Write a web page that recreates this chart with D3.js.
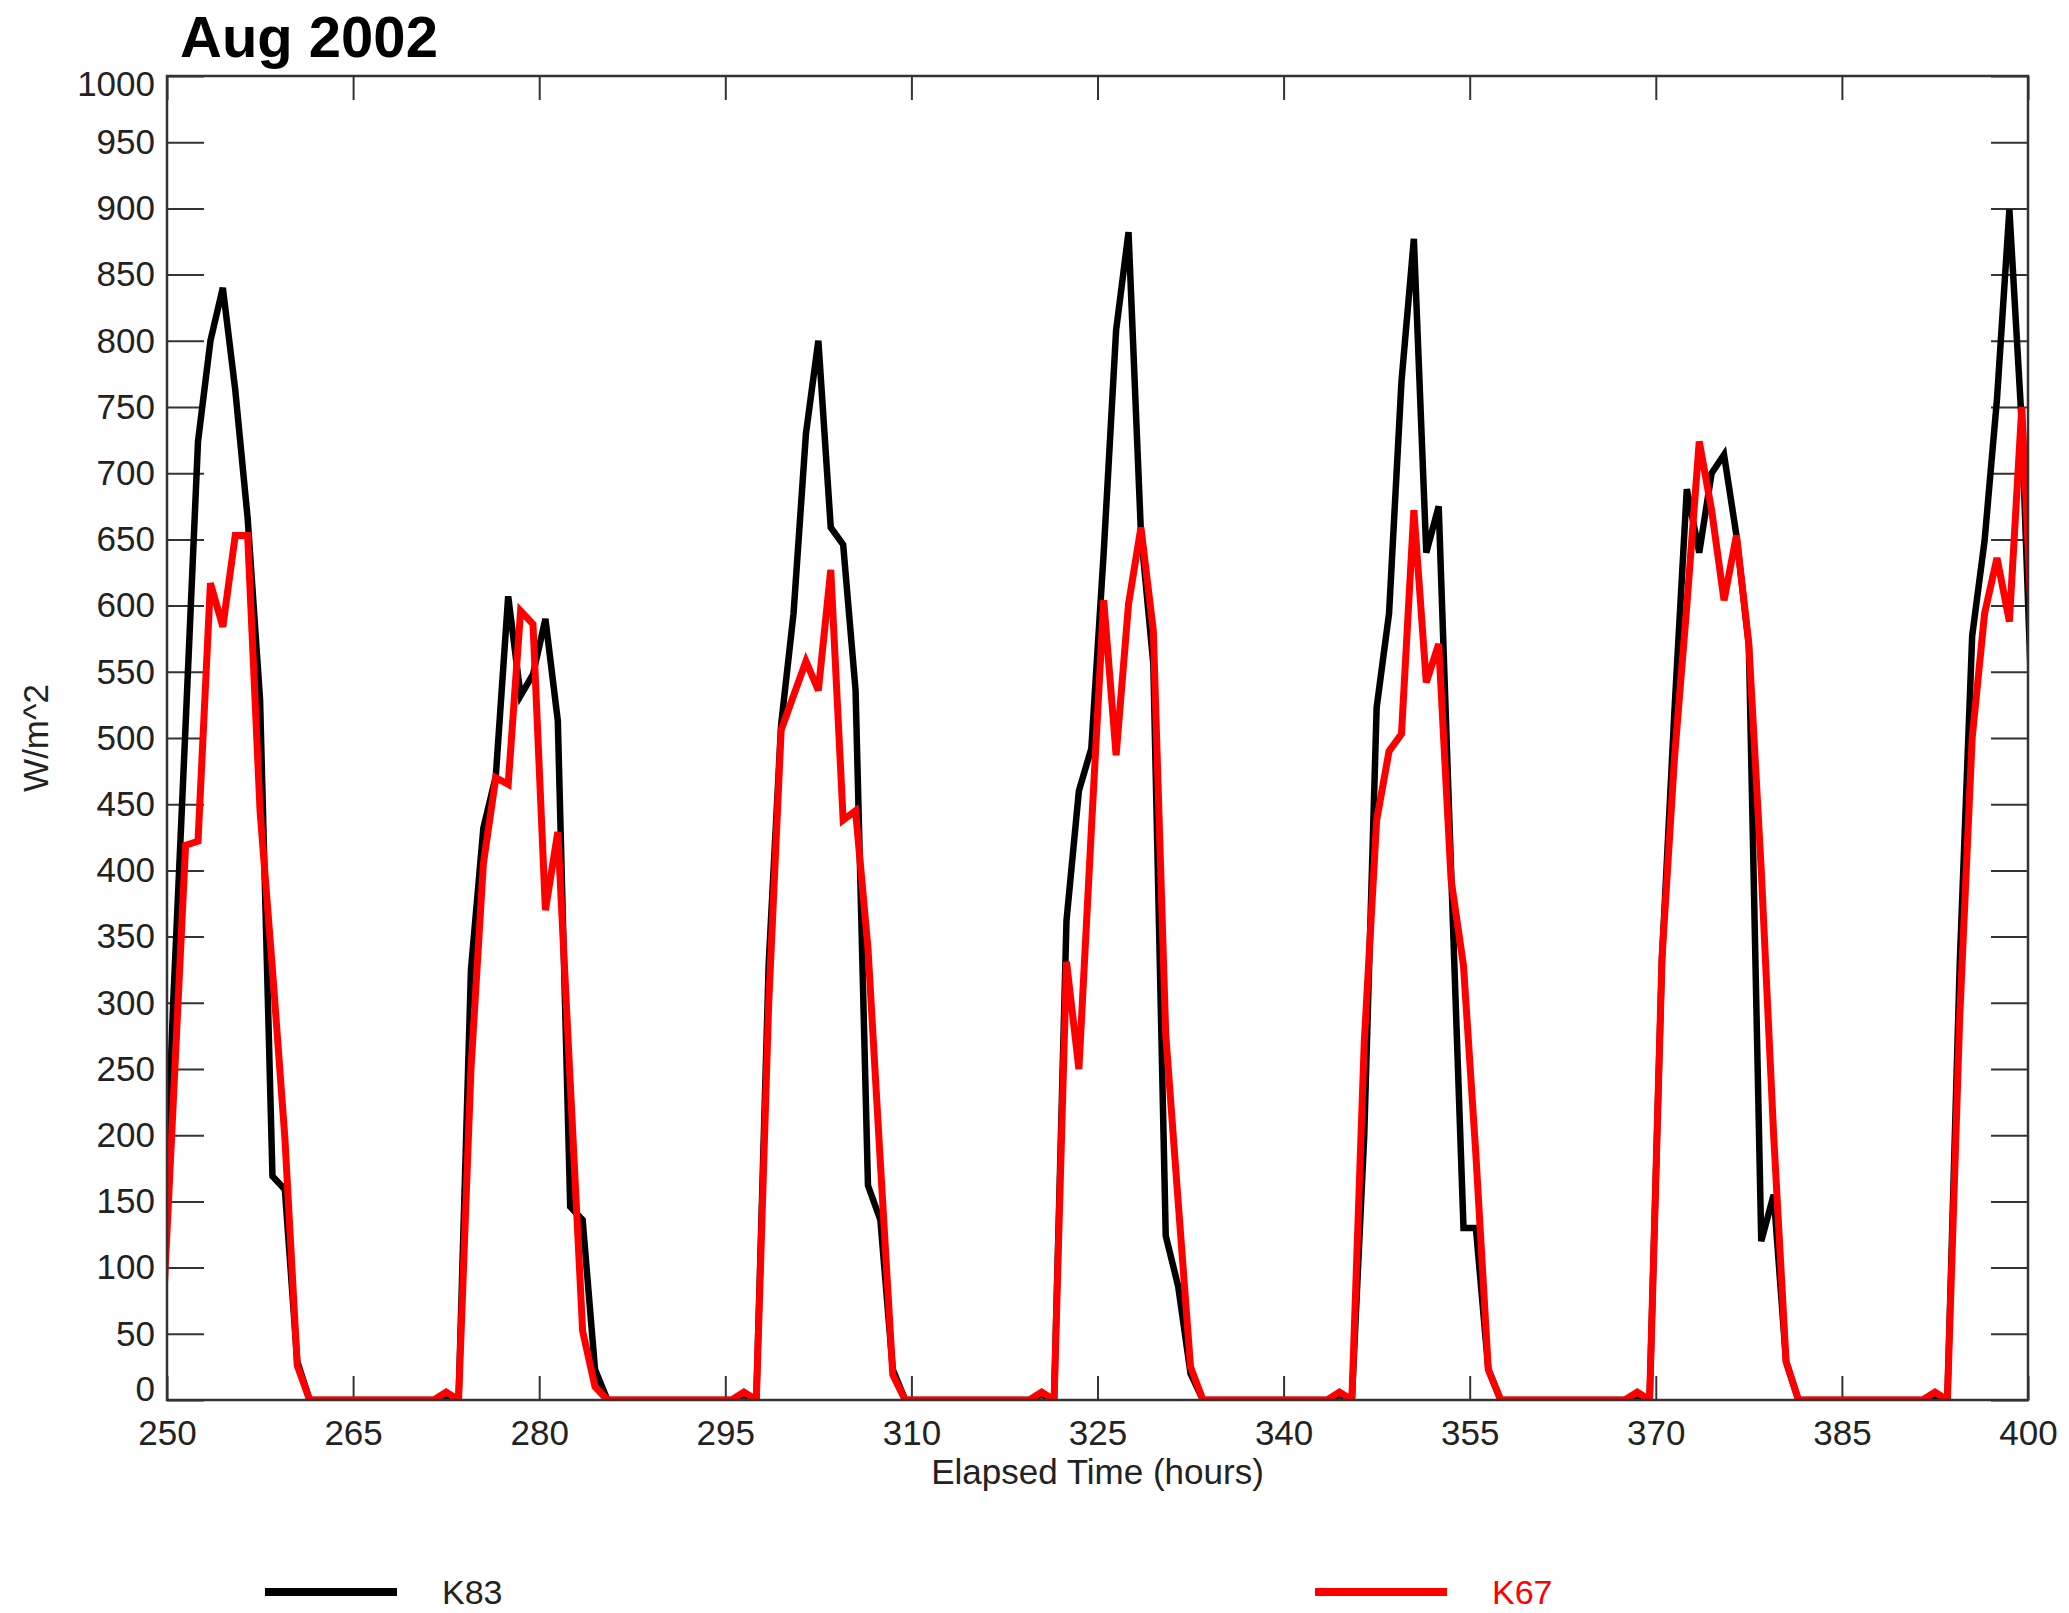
<!DOCTYPE html>
<html>
<head>
<meta charset="utf-8">
<script src="https://cdnjs.cloudflare.com/ajax/libs/d3/7.8.5/d3.min.js"></script>
<style>
  body { margin: 0; background: #fff; }
  svg { display: block; font-family: "Liberation Sans", Arial, Helvetica, sans-serif; }
</style>
</head>
<body>
<svg id="chart"></svg>
<script>
var W = 2069, H = 1613;
var margin = {top: 76, right: 41, bottom: 213, left: 167};
var width = W - margin.left - margin.right;
var height = H - margin.top - margin.bottom;

// hourly samples, centred on the half hour (first and last get clipped by the frame)
var hours = d3.range(249.5, 401, 1);

var k83 = [
  58, 300, 510, 724, 800, 840, 763, 666, 529, 169, 159, 29, 0,
  0, 0, 0, 0, 0, 0, 0, 0, 0, 0, 4, 0,
  325, 432, 471, 607, 532, 548, 590, 513, 146, 136, 23, 0,
  0, 0, 0, 0, 0, 0, 0, 0, 0, 0, 4, 0,
  330, 510, 594, 730, 800, 659, 646, 536, 162, 136, 23, 0,
  0, 0, 0, 0, 0, 0, 0, 0, 0, 0, 4, 0,
  362, 460, 492, 640, 808, 882, 655, 556, 124, 86, 20, 0,
  0, 0, 0, 0, 0, 0, 0, 0, 0, 0, 4, 0,
  200, 523, 594, 769, 877, 640, 675, 400, 130, 130, 23, 0,
  0, 0, 0, 0, 0, 0, 0, 0, 0, 0, 4, 0,
  334, 520, 688, 640, 700, 714, 653, 570, 120, 155, 29, 0,
  0, 0, 0, 0, 0, 0, 0, 0, 0, 0, 4, 0,
  330, 577, 649, 756, 899, 737, 471
];

var k67 = [
  30, 224, 419, 422, 617, 584, 653, 653, 445, 325, 198, 26, 0,
  0, 0, 0, 0, 0, 0, 0, 0, 0, 0, 6, 0,
  250, 405, 470, 465, 596, 586, 370, 429, 240, 52, 10, 0,
  0, 0, 0, 0, 0, 0, 0, 0, 0, 0, 6, 0,
  300, 506, 532, 558, 536, 627, 438, 445, 341, 179, 19, 0,
  0, 0, 0, 0, 0, 0, 0, 0, 0, 0, 6, 0,
  331, 250, 430, 604, 487, 601, 659, 581, 276, 150, 25, 0,
  0, 0, 0, 0, 0, 0, 0, 0, 0, 0, 6, 0,
  270, 438, 490, 503, 672, 542, 571, 393, 328, 185, 23, 0,
  0, 0, 0, 0, 0, 0, 0, 0, 0, 0, 6, 0,
  334, 484, 600, 724, 672, 604, 653, 571, 400, 200, 29, 0,
  0, 0, 0, 0, 0, 0, 0, 0, 0, 0, 6, 0,
  290, 500, 594, 636, 588, 750, 542
];

var xTicks = [250, 265, 280, 295, 310, 325, 340, 355, 370, 385, 400];
var yTicks = d3.range(0, 1001, 50);

var seriesNames = ["K83", "K67"];
var seriesColors = ["#000000", "#ff0000"];

var svg0 = d3.select("#chart")
    .attr("width", W)
    .attr("height", H);

svg0.append("rect")
    .attr("width", W)
    .attr("height", H)
    .attr("fill", "#fff");

var svg = svg0.append("g")
    .attr("transform", "translate(" + margin.left + "," + margin.top + ")");

var x = d3.scaleLinear().domain([250, 400]).range([0, width]);
var y = d3.scaleLinear().domain([0, 1000]).range([height, 0]);

svg.append("clipPath")
    .attr("id", "plot-clip")
  .append("rect")
    .attr("width", width)
    .attr("height", height);

// axes, ticks pointing inward
svg.append("g")
    .attr("class", "y axis left")
    .call(d3.axisLeft(y).tickValues(yTicks).tickFormat(d3.format("d"))
      .tickSizeInner(-37).tickSizeOuter(0).tickPadding(12));

svg.append("g")
    .attr("class", "y axis right")
    .attr("transform", "translate(" + width + ",0)")
    .call(d3.axisRight(y).tickValues(yTicks).tickSizeInner(-37).tickSizeOuter(0).tickFormat(""));

svg.append("g")
    .attr("class", "x axis bottom")
    .attr("transform", "translate(0," + height + ")")
    .call(d3.axisBottom(x).tickValues(xTicks).tickFormat(d3.format("d"))
      .tickSizeInner(-24).tickSizeOuter(0).tickPadding(20));

svg.append("g")
    .attr("class", "x axis top")
    .call(d3.axisTop(x).tickValues(xTicks).tickSizeInner(-24).tickSizeOuter(0).tickFormat(""));

svg.selectAll(".axis .domain").remove();
svg.selectAll(".axis .tick line")
    .attr("stroke", "#333")
    .attr("stroke-width", 2);
svg.selectAll(".axis text")
    .attr("font-size", "35px")
    .attr("font-family", "'Liberation Sans', Arial, sans-serif")
    .attr("fill", "#222");

// end labels nudged inside like the original
svg.selectAll(".y.axis.left .tick text")
    .attr("dy", function(d) {
      if (d === 1000) return "0.55em";
      if (d === 0) return "0.0em";
      return "0.32em";
    });

// data lines
var line = d3.line()
    .x(function(d) { return x(d[0]); })
    .y(function(d) { return y(d[1]); });

var lines = svg.append("g").attr("clip-path", "url(#plot-clip)");

lines.append("path")
    .datum(hours.map(function(h, i) { return [h, k83[i]]; }))
    .attr("fill", "none")
    .attr("stroke", seriesColors[0])
    .attr("stroke-width", 6.5)
    .attr("d", line);

lines.append("path")
    .datum(hours.map(function(h, i) { return [h, k67[i]]; }))
    .attr("fill", "none")
    .attr("stroke", seriesColors[1])
    .attr("stroke-width", 7)
    .attr("d", line);

// frame
svg.append("rect")
    .attr("width", width)
    .attr("height", height)
    .attr("fill", "none")
    .attr("stroke", "#333")
    .attr("stroke-width", 2.5);

// titles
svg0.append("text")
    .attr("x", 180)
    .attr("y", 57)
    .attr("font-size", "58px")
    .attr("font-weight", "bold")
    .attr("fill", "#000")
    .text("Aug 2002");

svg0.append("text")
    .attr("x", margin.left + width / 2)
    .attr("y", 1484)
    .attr("text-anchor", "middle")
    .attr("font-size", "35px")
    .attr("fill", "#222")
    .text("Elapsed Time (hours)");

svg0.append("text")
    .attr("transform", "translate(48," + (margin.top + height / 2) + ") rotate(-90)")
    .attr("text-anchor", "middle")
    .attr("font-size", "35px")
    .attr("fill", "#222")
    .text("W/m^2");

// legend
var legendX = [265, 1315];
var legend = svg0.append("g")
    .selectAll("g")
    .data(seriesNames)
    .enter().append("g")
      .attr("transform", function(d, i) { return "translate(" + legendX[i] + ",1592)"; });

legend.append("line")
    .attr("x1", 0)
    .attr("x2", 132)
    .attr("stroke", function(d, i) { return seriesColors[i]; })
    .attr("stroke-width", 8);

legend.append("text")
    .attr("x", 177)
    .attr("dy", "0.36em")
    .attr("font-size", "34px")
    .attr("fill", function(d, i) { return i === 0 ? "#222" : seriesColors[i]; })
    .text(function(d) { return d; });
</script>
</body>
</html>
